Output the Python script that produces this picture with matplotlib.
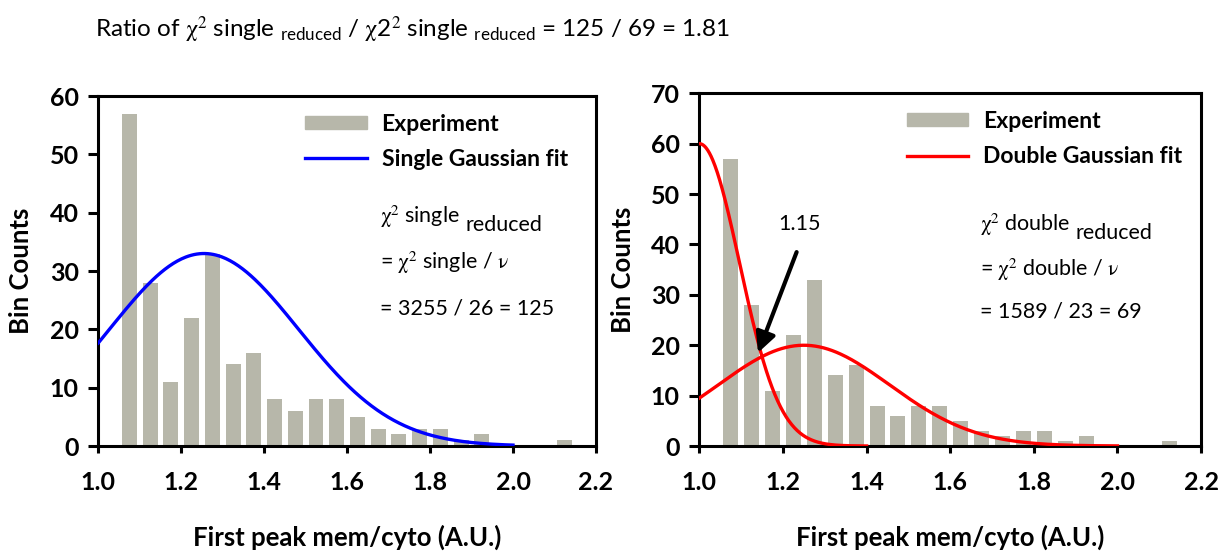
import numpy as np
import matplotlib
matplotlib.use('Agg')
import matplotlib.pyplot as plt
from matplotlib.patches import Patch
from matplotlib.lines import Line2D

plt.rcParams['font.family'] = ['Lato', 'DejaVu Sans']
plt.rcParams['mathtext.fontset'] = 'custom'
plt.rcParams['mathtext.sf'] = 'STIXGeneral'
plt.rcParams['mathtext.default'] = 'regular'

# histogram of first peak mem/cyto ratios
bin_centers = [1.075, 1.125, 1.175, 1.225, 1.275, 1.325, 1.375, 1.425, 1.475, 1.525, 1.575,
               1.625, 1.675, 1.725, 1.775, 1.825, 1.875, 1.925, 1.975, 2.025, 2.075, 2.125]
bin_counts = [57, 28, 11, 22, 33, 14, 16, 8, 6, 8, 8, 5, 3, 2, 3, 3, 1, 2, 0, 0, 0, 1]
bar_width = 0.036

# gaussian fit parameters (amplitude, centre, sigma) and drawn x-range
single_fit = (33.0, 1.255, 0.228)
single_range = (1.0, 2.0)
double_fit_narrow = (60.0, 1.0, 0.096)
narrow_range = (1.0, 1.4)
double_fit_broad = (20.0, 1.25, 0.205)
broad_range = (1.0, 2.0)

crossing_label = '1.15'
single_lines = ['= $\\mathsf{\\chi}^{\\mathsf{2}}$ single / $\\mathsf{\\nu}$', '= 3255 / 26 = 125']
double_lines = ['= $\\mathsf{\\chi}^{\\mathsf{2}}$ double / $\\mathsf{\\nu}$', '= 1589 / 23 = 69']

bar_color = '#b7b7aa'
TICK_FS = 18
LAB_FS = 18.5
LEG_FS = 16.5
TXT_FS = 15.5


def gauss(xr, p):
    x = np.linspace(xr[0], xr[1], 300)
    a, mu, s = p
    return x, a * np.exp(-(x - mu) ** 2 / (2 * s ** 2))


def style_axes(ax, ymax):
    ax.bar(bin_centers, bin_counts, width=bar_width, color=bar_color, zorder=1)
    ax.set_xlim(1.0, 2.2)
    ax.set_ylim(0, ymax)
    ax.set_xticks(np.arange(1.0, 2.21, 0.2))
    ax.set_xticklabels(['%.1f' % v for v in np.arange(1.0, 2.21, 0.2)])
    ax.set_yticks(np.arange(0, ymax + 1, 10))
    for s in ax.spines.values():
        s.set_linewidth(2.2)
    ax.tick_params(axis='y', direction='out', length=7, width=2.2, pad=7, labelsize=TICK_FS)
    ax.tick_params(axis='x', direction='out', length=5, width=2.2, pad=13, labelsize=TICK_FS)
    for lab in ax.get_xticklabels() + ax.get_yticklabels():
        lab.set_fontweight('bold')
    ax.set_xlabel('First peak mem/cyto (A.U.)', fontsize=LAB_FS, fontweight='bold', labelpad=22)
    ax.set_ylabel('Bin Counts', fontsize=LAB_FS, fontweight='bold')


def stats_block(ax, x0, ys, kind, lines):
    t = ax.text(x0, ys[0], '$\\mathsf{\\chi}^{\\mathsf{2}}$ ' + kind, transform=ax.transAxes,
                fontsize=TXT_FS, va='center', ha='left')
    ax.annotate('reduced', xy=(1, 0.5), xycoords=t, xytext=(4, -6), textcoords='offset points',
                fontsize=TXT_FS, va='center', ha='left')
    for y, s in zip(ys[1:], lines):
        ax.text(x0, y, s, transform=ax.transAxes, fontsize=TXT_FS, va='center', ha='left')


def add_legend(ax, x0, fit_color, fit_label):
    ax.legend(handles=[Patch(color=bar_color, label='Experiment'),
                       Line2D([], [], color=fit_color, lw=2.4, label=fit_label)],
              loc='upper left', bbox_to_anchor=(x0, 0.95), frameon=False, borderpad=0,
              borderaxespad=0, handlelength=2.7, handleheight=0.5, handletextpad=0.65,
              labelspacing=0.62, prop={'weight': 'bold', 'size': LEG_FS})


fig = plt.figure(figsize=(12.25, 5.56), dpi=100)
ax1 = fig.add_axes([0.0802, 0.1978, 0.4063, 0.6295])
ax2 = fig.add_axes([0.5709, 0.1978, 0.4096, 0.6344])

# left: single gaussian
style_axes(ax1, 60)
x, y = gauss(single_range, single_fit)
ax1.plot(x, y, color='#0000ff', lw=2.4, zorder=3)
ax1.yaxis.set_label_coords(-0.131, 0.5)
add_legend(ax1, 0.415, '#0000ff', 'Single Gaussian fit')
stats_block(ax1, 0.566, [0.655, 0.523, 0.394], 'single', single_lines)

# right: double gaussian
style_axes(ax2, 70)
x, y = gauss(narrow_range, double_fit_narrow)
ax2.plot(x, y, color='#ff0000', lw=2.4, zorder=3)
x, y = gauss(broad_range, double_fit_broad)
ax2.plot(x, y, color='#ff0000', lw=2.4, zorder=3)
ax2.yaxis.set_label_coords(-0.128, 0.5)
add_legend(ax2, 0.413, '#ff0000', 'Double Gaussian fit')
stats_block(ax2, 0.559, [0.627, 0.499, 0.380], 'double', double_lines)
ax2.annotate('', xy=(1.138, 18.0), xytext=(1.235, 39.0),
             arrowprops=dict(arrowstyle='-|>', color='black', lw=3, mutation_scale=30))
ax2.text(1.24, 44, crossing_label, fontsize=TXT_FS, ha='center', va='center')

fig.text(0.0776, 0.946,
         'Ratio of $\\mathsf{\\chi}^{\\mathsf{2}}$ single $_{reduced}$ / '
         '$\\mathsf{\\chi}2^{\\mathsf{2}}$ single $_{reduced}$ = 125 / 69 = 1.81',
         fontsize=17.5, ha='left', va='center')

fig.savefig('out.png', dpi=100)
